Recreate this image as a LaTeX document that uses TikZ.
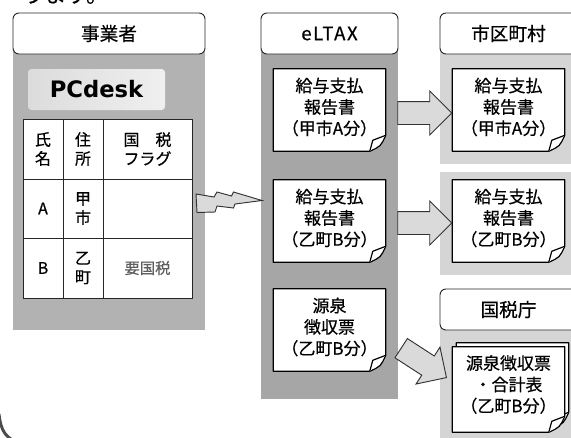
\documentclass[tikz,border=0pt]{standalone}
\usepackage{fontspec}
\setmainfont{Noto Sans CJK JP}[FakeBold=0.5]
\newfontfamily\pcfont{DejaVu Sans}
\usepackage{tikz}
\usetikzlibrary{calc}
\usetikzlibrary{shapes.arrows}

\definecolor{bizgray}{RGB}{178,178,178}
\definecolor{eltaxgray}{RGB}{166,166,166}
\definecolor{destgray}{RGB}{213,213,213}
\definecolor{arrowgray}{RGB}{218,218,218}
\definecolor{pcgray}{RGB}{220,220,220}
\definecolor{flaggray}{RGB}{95,95,95}

\tikzset{
  header/.style={draw=black!85, fill=white, line width=0.7pt, rounded corners=4.5pt, inner sep=0pt, font=\fontsize{14}{16}\selectfont},
  sheet/.style={draw=black, fill=white, line width=0.9pt, line join=round},
  sheetbox/.style={inner sep=0pt, minimum width=84pt, minimum height=61.5pt},
  doctext/.style={inner sep=0pt, align=center, font=\fontsize{12.75}{16}\selectfont},
  celltext/.style={inner sep=0pt, align=center, font=\fontsize{12}{14.25}\selectfont},
  tableline/.style={draw=black!85, line width=0.6pt},
  blockarrow/.style={single arrow, draw=black!80, fill=arrowgray, line width=0.7pt, inner xsep=0pt, inner ysep=8.25pt, minimum height=40.5pt, single arrow head extend=7.9pt, single arrow tip angle=90},
}

% sheet with a turned-up corner, drawn round an empty node
\newcommand{\foldsheet}[1]{%
  \filldraw[sheet] (#1.north west) -- (#1.north east) -- ($(#1.south east)+(0,-16)$)
    .. controls ($(#1.south east)+(-5,-5)$) .. ($(#1.south east)+(-16,0)$) -- (#1.south west) -- cycle;
  \filldraw[sheet] ($(#1.south east)+(0,-16)$) -- ($(#1.south east)+(-13,-11)$) -- ($(#1.south east)+(-16,0)$);
}

\begin{document}
\begin{tikzpicture}[x=0.75pt,y=0.75pt,yscale=-1,xscale=1]
\useasboundingbox (0,0) rectangle (571,437);

% Text Node: last line of the text above, cut off
\node[anchor=base west, inner sep=0pt, font=\fontsize{16.5}{18}\selectfont] (intro) at (22,2.5) {ります。};

%Shape: gray panels
\fill[bizgray] (13,50) rectangle (205,330);
\fill[eltaxgray] (261,50) rectangle (398,399);
\fill[destgray] (440,50) rectangle (577,164);
\fill[destgray] (440,172) rectangle (577,275);
\fill[destgray] (440,326) rectangle (577,440);

%Shape: column headers
\node[header, minimum width=144pt, minimum height=30.75pt] (biz) at (109,33.5) {事業者};
\node[header, minimum width=102.75pt, minimum height=30.75pt] (eltax) at (329.5,33.5) {\addfontfeature{LetterSpace=8}eLTAX};
\node[header, minimum width=102.75pt, minimum height=30.75pt] (city) at (508.5,33.5) {市区町村};
\node[header, minimum width=102.75pt, minimum height=30.75pt] (nta) at (508.5,309.5) {国税庁};

%Shape: PCdesk label
\node[minimum width=102.75pt, minimum height=30.75pt, rounded corners=2.5pt, left color=pcgray, right color=pcgray!45, inner sep=0pt, font=\pcfont\bfseries\fontsize{17}{20}\selectfont] (pcdesk) at (96.5,89.5) {PCdesk};

%Shape: table
\fill[white] (23,119) rectangle (192,298);
\draw[tableline] (23,119) rectangle (192,298);
\foreach \x in {63,103} \draw[tableline] (\x,119) -- (\x,298);
\foreach \y in {179,238} \draw[tableline] (23,\y) -- (192,\y);

% Text Node
\node[celltext] (col-name) at (43,149) {氏\\名};
\node[celltext] (col-addr) at (83,149) {住\\所};
\node[celltext] (col-flag) at (147.5,149) {国　税\\フラグ};
\node[celltext] (name-a) at (43,208.5) {A};
\node[celltext] (addr-a) at (83,208.5) {甲\\市};
\node[celltext] (name-b) at (43,268) {B};
\node[celltext] (addr-b) at (83,268) {乙\\町};
\node[celltext, text=flaggray, font=\fontsize{11.5}{14}\selectfont] (flag-b) at (147.5,268) {要国税};

%Shape: lightning
\filldraw[draw=black!80, fill=arrowgray, line width=0.7pt, line join=miter] (196,194) -- (214,197) -- (217,192) -- (231.5,196) -- (233.5,192) -- (262,200.5) -- (235,204) -- (233.5,208) -- (217,206) -- (215,212) -- (197,212.5) -- cycle;

%Shape: sheets in eLTAX
\node[sheetbox] (rep-a) at (329.5,110) {};
\foldsheet{rep-a}
\node[doctext] (rep-a-txt) at ($(rep-a)+(0,-3)$) {給与支払\\報告書\\（甲市A分）};
\node[sheetbox] (rep-b) at (329.5,221) {};
\foldsheet{rep-b}
\node[doctext] (rep-b-txt) at ($(rep-b)+(0,-3)$) {給与支払\\報告書\\（乙町B分）};
\node[sheetbox] (slip-b) at (329.5,330) {};
\foldsheet{slip-b}
\node[doctext] (slip-b-txt) at ($(slip-b)+(0,-3)$) {源泉\\徴収票\\（乙町B分）};

%Shape: sheets at the receivers
\node[sheetbox] (city-a) at (508.5,110) {};
\foldsheet{city-a}
\node[doctext] (city-a-txt) at ($(city-a)+(0,-3)$) {給与支払\\報告書\\（甲市A分）};
\node[sheetbox] (city-b) at (508.5,221) {};
\foldsheet{city-b}
\node[doctext] (city-b-txt) at ($(city-b)+(0,-3)$) {給与支払\\報告書\\（乙町B分）};
\node[sheetbox, minimum height=63.75pt] (nta-back) at (512.5,385.5) {};
\foldsheet{nta-back}
\node[sheetbox, minimum height=63.75pt] (nta-doc) at (508.5,389.5) {};
\foldsheet{nta-doc}
\node[doctext] (nta-doc-txt) at ($(nta-doc)+(0,-5)$) {源泉徴収票\\・合計表\\（乙町B分）};

%Shape: block arrows
\node[blockarrow] (arr-a) at ($(rep-a.east)!0.5!(city-a.west)+(0,3)$) {};
\node[blockarrow] (arr-b) at ($(rep-b.east)!0.5!(city-b.west)+(0,2)$) {};
\node[blockarrow, rotate=-33] (arr-c) at ($(slip-b.east)!0.5!(nta-doc.west)$) {};

%Shape: corner of the outer frame
\draw[line width=2.2pt, black!70] (-1,414) .. controls (1,432) and (6,436) .. (14,441);

\end{tikzpicture}
\end{document}
